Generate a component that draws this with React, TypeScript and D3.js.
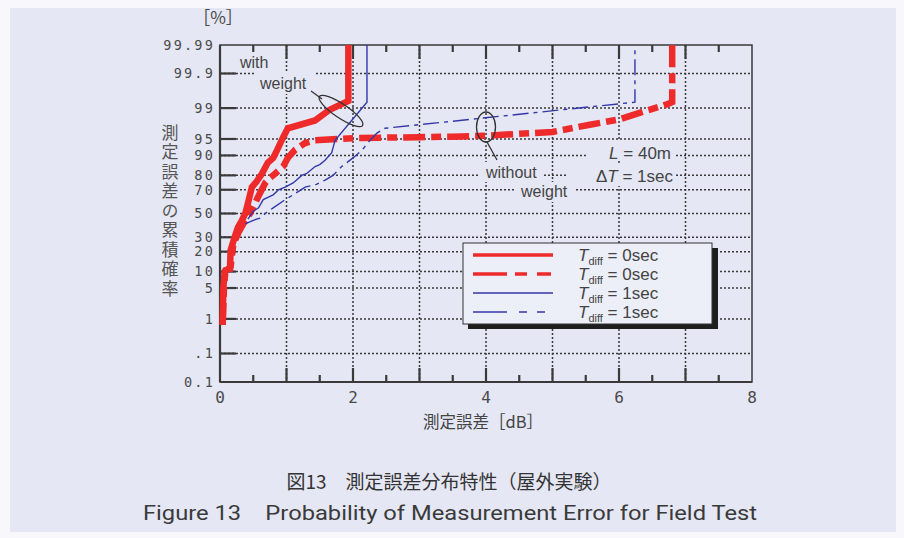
import React from 'react';
import * as d3 from 'd3';

// ---- data ----
const yTickValues = [99.99, 99.9, 99, 95, 90, 80, 70, 50, 30, 20, 10, 5, 1, 0.1, 0.01];
const yTickLabels = ['99.99', '99.9', '99', '95', '90', '80', '70', '50', '30', '20', '10', '5', '1', '.1', '0.1'];
const xTickLabels = [0, 2, 4, 6, 8];

// Tdiff = 0sec, with weight
const redSolidX = [0.04, 0.05, 0.07, 0.08, 0.15, 0.16, 0.22, 0.27, 0.33, 0.38, 0.42, 0.48, 0.55, 0.63, 0.72, 0.8, 0.86, 0.95, 1.02, 1.43, 1.65, 1.93, 1.93];
const redSolidP = [0.7, 5, 10, 10.5, 11, 21, 30, 38, 44, 50, 59, 72, 76, 81, 87, 89, 92, 95.4, 97, 98, 98.9, 99.35, 99.99];
// Tdiff = 0sec, without weight
const redDashX = [0.04, 0.06, 0.08, 0.16, 0.2, 0.28, 0.36, 0.45, 0.52, 0.57, 0.68, 0.74, 0.8, 0.95, 1.02, 1.13, 1.28, 1.43, 2.03, 3.0, 3.5, 4.0, 5.0, 5.56, 6.0, 6.32, 6.72, 6.8, 6.8];
const redDashP = [0.7, 5, 10, 12, 25, 34, 42, 50, 58, 64, 75, 78, 80, 85, 89, 92, 94, 94.7, 95.2, 95.4, 95.5, 95.7, 96.4, 97.5, 98.1, 98.7, 99.2, 99.3, 99.99];
// Tdiff = 1sec, with weight
const blueSolidX = [0.42, 0.5, 0.58, 0.65, 0.8, 0.88, 0.98, 1.1, 1.23, 1.3, 1.43, 1.5, 1.58, 1.68, 1.73, 2.21, 2.21];
const blueSolidP = [45, 52, 55, 62, 66, 70, 72, 75, 80, 81, 85, 86, 88, 91, 94.7, 99.3, 99.99];
// Tdiff = 1sec, without weight
const blueDashX = [0.38, 0.5, 0.6, 0.68, 0.8, 0.98, 1.1, 1.28, 1.45, 1.58, 1.7, 1.83, 2.0, 2.14, 2.23, 2.36, 2.48, 6.24, 6.24];
const blueDashP = [41, 44, 46, 50, 55, 62, 66, 72, 74, 77, 80, 85, 89, 92, 94.2, 96.2, 97, 99.3, 99.99];

const legendLabels = ['0sec', '0sec', '1sec', '1sec'];

// inverse normal CDF (Acklam)
function probit(p: number): number {
  const a = [-3.969683028665376e1, 2.209460984245205e2, -2.759285104469687e2, 1.38357751867269e2, -3.066479806614716e1, 2.506628277459239];
  const b = [-5.447609879822406e1, 1.615858368580409e2, -1.556989798598866e2, 6.680131188771972e1, -1.328068155288572e1];
  const c = [-7.784894002430293e-3, -3.223964580411365e-1, -2.400758277161838, -2.549671010229297, 4.374664141464968, 2.938163982698783];
  const d = [7.784695709041462e-3, 3.224671290700398e-1, 2.445134137142996, 3.754408661907416];
  const pl = 0.02425;
  if (p < pl) {
    const q = Math.sqrt(-2 * Math.log(p));
    return (((((c[0] * q + c[1]) * q + c[2]) * q + c[3]) * q + c[4]) * q + c[5]) / ((((d[0] * q + d[1]) * q + d[2]) * q + d[3]) * q + 1);
  }
  if (p > 1 - pl) {
    const q = Math.sqrt(-2 * Math.log(1 - p));
    return -(((((c[0] * q + c[1]) * q + c[2]) * q + c[3]) * q + c[4]) * q + c[5]) / ((((d[0] * q + d[1]) * q + d[2]) * q + d[3]) * q + 1);
  }
  const q = p - 0.5;
  const r = q * q;
  return (((((a[0] * r + a[1]) * r + a[2]) * r + a[3]) * r + a[4]) * r + a[5]) * q / (((((b[0] * r + b[1]) * r + b[2]) * r + b[3]) * r + b[4]) * r + 1);
}

const W = 904;
const H = 538;
const left = 220, right = 752, top = 45, bottom = 382;
const zMax = probit(0.9999);

const x = d3.scaleLinear().domain([0, 8]).range([left, right]);
const z = d3.scaleLinear().domain([-zMax, zMax]).range([bottom, top]);
const y = (pct: number) => z(probit(pct / 100));

const RED = '#ee2a2a';
const BLUE = '#3338a8';
const INK = '#3a3a3a';
const BG = '#e5e7f4';

const series = [
  { xs: redSolidX, ps: redSolidP, color: RED, width: 6.5, dash: undefined },
  { xs: redDashX, ps: redDashP, color: RED, width: 6.5, dash: '22 6 10 6' },
  { xs: blueSolidX, ps: blueSolidP, color: BLUE, width: 1.4, dash: undefined },
  { xs: blueDashX, ps: blueDashP, color: BLUE, width: 1.4, dash: '16 5 4 5' },
];

const line = d3.line<[number, number]>().x(d => x(d[0])).y(d => y(d[1]));

export default function App() {
  const gridP = yTickValues.slice(1, -1);
  const halfTicks = d3.range(0.5, 8, 0.5);
  const mono = '"DejaVu Sans Mono", monospace';
  const sans = '"Liberation Sans", Arial, sans-serif';
  const cjk = '"Noto Sans CJK JP", sans-serif';

  return (
    <div style={{ position: 'fixed', left: 0, top: 0 }}>
      <svg width={W} height={H} style={{ display: 'block' }}>
        <rect x={0} y={0} width={W} height={H} fill="#f8f8fc" />
        <rect x={10} y={8} width={W - 18} height={H - 14} fill={BG} />

        {/* grid */}
        <g stroke={INK} strokeWidth={1.5} strokeDasharray="2 2" fill="none">
          {gridP.map(p => (
            <line key={'h' + p} x1={left} x2={right} y1={y(p)} y2={y(p)} />
          ))}
          {d3.range(1, 8).map(v => (
            <line key={'v' + v} x1={x(v)} x2={x(v)} y1={top} y2={bottom} />
          ))}
        </g>

        {/* label backgrounds covering grid */}
        <g fill={BG}>
          <rect x={236} y={52} width={42} height={20} />
          <rect x={256} y={72} width={58} height={22} />
          <rect x={480} y={162} width={64} height={20} />
          <rect x={516} y={182} width={60} height={20} />
          <rect x={588} y={141} width={88} height={20} />
          <rect x={566} y={164} width={110} height={22} />
        </g>

        {/* frame */}
        <rect x={left} y={top} width={right - left} height={bottom - top} fill="none" stroke={INK} strokeWidth={1.5} />
        <line x1={left} x2={left} y1={top} y2={bottom} stroke={INK} strokeWidth={2.2} />
        <line x1={left} x2={right} y1={bottom} y2={bottom} stroke={INK} strokeWidth={2.2} />

        {/* y ticks */}
        <g stroke={INK} strokeWidth={2.2}>
          {gridP.map(p => (
            <line key={'yt' + p} x1={left} x2={left + 16} y1={y(p)} y2={y(p)} />
          ))}
        </g>
        {/* x ticks, bottom and top */}
        <g stroke={INK} strokeWidth={2.2}>
          {halfTicks.map(v => {
            const len = Number.isInteger(v) ? 14 : 7;
            return (
              <g key={'xt' + v}>
                <line x1={x(v)} x2={x(v)} y1={bottom} y2={bottom - len} />
                <line x1={x(v)} x2={x(v)} y1={top} y2={top + len} />
              </g>
            );
          })}
        </g>

        {/* tick labels */}
        <g fontFamily={mono} fontSize={13.5} fill="#4a4a4a" letterSpacing={2.2}>
          {yTickValues.map((p, i) => (
            <text key={'yl' + p} x={215} y={y(p)} dy="0.36em" textAnchor="end">{yTickLabels[i]}</text>
          ))}
        </g>
        <g fontFamily={mono} fontSize={16} fill="#4a4a4a">
          {xTickLabels.map(v => (
            <text key={'xl' + v} x={x(v)} y={403} textAnchor="middle">{v}</text>
          ))}
        </g>
        <text x={218} y={24} textAnchor="middle" fontFamily={cjk} fontSize={17} fill="#4a4a4a">［%］</text>

        {/* axis titles */}
        <text x={170} y={124} fontFamily={cjk} fontSize={17} fill="#555" letterSpacing={2.5}
          style={{ writingMode: 'vertical-rl' }}>測定誤差の累積確率</text>
        <text x={483} y={428} textAnchor="middle" fontFamily={cjk} fontSize={16.5} fill="#444">測定誤差［dB］</text>

        {/* series */}
        {series.map((s, i) => (
          <path
            key={'s' + i}
            d={line(s.xs.map((v, j) => [v, s.ps[j]] as [number, number])) || ''}
            fill="none"
            stroke={s.color}
            strokeWidth={s.width}
            strokeDasharray={s.dash}
            strokeLinejoin="miter"
          />
        ))}

        {/* annotations */}
        <g fontFamily={sans} fontSize={16} fill="#444">
          <text x={240} y={68}>with</text>
          <text x={260} y={89}>weight</text>
          <text x={486} y={178}>without</text>
          <text x={521} y={197}>weight</text>
        </g>
        <g fill="none" stroke="#333" strokeWidth={1.3}>
          <line x1={311} y1={91} x2={322} y2={99} />
          <ellipse cx={341} cy={111} rx={26} ry={7} transform="rotate(34 341 111)" />
          <ellipse cx={486} cy={127} rx={9.5} ry={15} />
          <line x1={487} y1={142} x2={497} y2={160} />
        </g>
        <g fontFamily={sans} fontSize={17} fill="#444" textAnchor="end">
          <text x={671} y={159}>
            <tspan fontStyle="italic">L</tspan> = 40m
          </text>
          <text x={673} y={182}>
            Δ<tspan fontStyle="italic">T</tspan> = 1sec
          </text>
        </g>

        {/* legend */}
        <rect x={468} y={248} width={250} height={81} fill="#1e1e1e" />
        <rect x={463} y={243} width={249} height={81} fill="#eceef8" stroke="#333" strokeWidth={1} />
        {series.map((s, i) => {
          const ly = 255 + i * 19;
          return (
            <g key={'lg' + i}>
              <line x1={473} x2={553} y1={ly} y2={ly} stroke={s.color}
                strokeWidth={i < 2 ? 3.5 : 1.5} strokeDasharray={s.dash ? (i < 2 ? '34 8 12 10 14' : '34 12 8 10 8') : undefined} />
              <text x={578} y={ly + 6} fontFamily={sans} fontSize={17} fill="#444">
                <tspan fontStyle="italic">T</tspan>
                <tspan fontSize={11} dy={4}>diff</tspan>
                <tspan dy={-4}> = {legendLabels[i]}</tspan>
              </text>
            </g>
          );
        })}

        {/* caption */}
        <text x={449} y={489} textAnchor="middle" fontFamily={cjk} fontSize={19} fill="#333">図13　測定誤差分布特性（屋外実験）</text>
        <text x={143} y={520} fontFamily={'Roboto, sans-serif'} fontSize={20} fill="#3a3a3a"
          textLength={614} lengthAdjust="spacingAndGlyphs">{'Figure 13\u2002\u2002Probability of Measurement Error for Field Test'}</text>
      </svg>
    </div>
  );
}
